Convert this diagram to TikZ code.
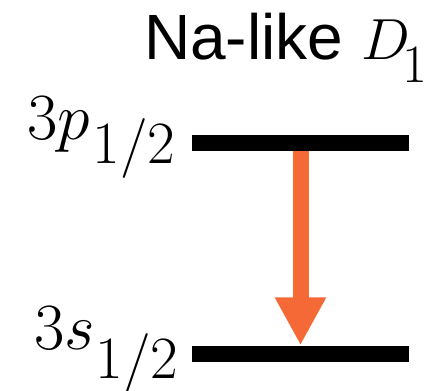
\RequirePackage{fix-cm}
\documentclass[tikz,border=0pt]{standalone}
\usepackage{fontspec}
\newfontfamily\titlefont{Liberation Sans}
\usetikzlibrary{arrows.meta}
\definecolor{arroworange}{RGB}{245,105,55}
\newcommand{\lvllabel}[4]{{\fontsize{66}{66}\selectfont$#1$}\kern#2\raisebox{#3}{\fontsize{#4}{#4}\selectfont$1/2$}}
\tikzset{
  level/.style={fill=black, inner sep=0pt, minimum width=217pt, minimum height=16pt},
  lbl/.style={inner sep=0pt, anchor=base west},
  transition/.style={draw=arroworange, line width=16pt,
    -{Triangle[width=48pt,length=48pt]}, arroworange}
}
\begin{document}
\begin{tikzpicture}[x=1pt,y=-1pt]
\useasboundingbox (0,0) rectangle (434,391);
\node[level] (up) at (300.5,143) {};
\node[level] (low) at (300.5,353.5) {};
\node[lbl] (uplbl) at (27,139) {\lvllabel{3p}{3pt}{-24pt}{60}};
\node[lbl] (lowlbl) at (34,349) {\lvllabel{3s}{1pt}{-29pt}{60}};
\node[lbl] (title) at (144,59) {{\titlefont\fontsize{64}{64}\selectfont Na-like }{\fontsize{58}{58}\selectfont$D$}\kern-7pt\raisebox{-23pt}{\fontsize{54}{54}\selectfont$1$}};
\draw[transition] (up.south) -- (low.north);
\end{tikzpicture}
\end{document}
